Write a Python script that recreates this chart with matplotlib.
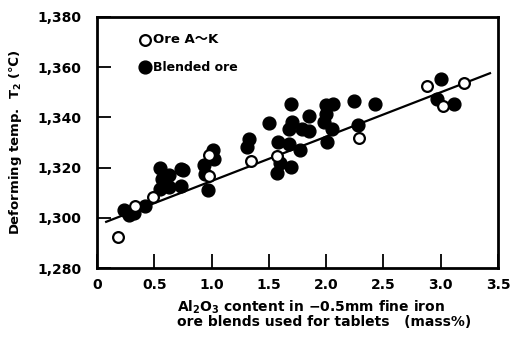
import matplotlib
matplotlib.use("Agg")
import matplotlib.pyplot as plt

# Open circles: Ore A~K
ore_x = [0.18, 0.33, 0.49, 0.98, 0.98, 1.34, 1.57, 2.29, 2.88, 3.02, 3.20]
ore_y = [1292.2, 1304.8, 1308.2, 1325.2, 1316.6, 1322.8, 1324.5, 1331.8, 1352.6, 1344.5, 1353.9]

# Filled circles: Blended ore
bl_x = [0.24, 0.28, 0.32, 0.42, 0.55, 0.57, 0.63, 0.55, 0.63, 0.73, 0.75, 0.73,
        0.93, 0.94, 1.01, 1.02, 0.97, 1.33, 1.31, 1.50, 1.58, 1.57, 1.60, 1.69,
        1.70, 1.68, 1.68, 1.69, 1.77, 1.79, 1.85, 1.85, 2.00, 2.06, 2.00, 1.98,
        2.05, 2.01, 2.24, 2.28, 2.43, 3.00, 2.97, 3.12]
bl_y = [1303.0, 1301.0, 1301.9, 1304.9, 1319.9, 1315.6, 1317.0, 1311.3, 1312.3, 1319.6, 1318.9, 1312.7,
        1321.2, 1317.6, 1326.9, 1323.6, 1311.1, 1331.3, 1328.3, 1337.9, 1330.2, 1317.9, 1322.0, 1345.4,
        1338.1, 1335.5, 1329.5, 1320.2, 1326.9, 1335.5, 1334.6, 1340.4, 1344.8, 1345.2, 1341.5, 1338.2,
        1335.5, 1330.2, 1346.5, 1336.8, 1345.4, 1355.4, 1347.2, 1345.4]

# Regression line end points
fit_x = [0.08, 3.43]
fit_y = [1298.4, 1357.6]

xticks = [0, 0.5, 1.0, 1.5, 2.0, 2.5, 3.0, 3.5]
xtick_labels = ["0", "0.5", "1.0", "1.5", "2.0", "2.5", "3.0", "3.5"]
yticks = [1280, 1300, 1320, 1340, 1360, 1380]
ytick_labels = ["1,280", "1,300", "1,320", "1,340", "1,360", "1,380"]

plt.rcParams['font.family'] = ['DejaVu Sans', 'Noto Sans CJK JP']
plt.rcParams['font.weight'] = 'bold'

fig = plt.figure(figsize=(5.14, 3.42), dpi=100)
ax = fig.add_axes([97/514, 1 - 268/342, (498 - 97)/514, (268 - 17)/342])

ax.plot(fit_x, fit_y, color='black', lw=1.6, zorder=1)
ax.scatter(bl_x, bl_y, s=85, color='black', zorder=2)
ax.scatter(ore_x, ore_y, s=60, facecolor='white', edgecolor='black', linewidths=1.6, zorder=3)

ax.set_xlim(0, 3.5)
ax.set_ylim(1280, 1380)
ax.set_xticks(xticks)
ax.set_xticklabels(xtick_labels, fontsize=10, fontweight='bold')
ax.set_yticks(yticks)
ax.set_yticklabels(ytick_labels, fontsize=10, fontweight='bold')
ax.tick_params(direction='in', length=10, width=1.3)
ax.tick_params(axis='y', pad=11)
ax.tick_params(axis='x', pad=7)
for s in ax.spines.values():
    s.set_linewidth(2.0)

# legend drawn manually as text + markers in axes coordinates
ax.scatter([0.12], [0.91], s=60, facecolor='white', edgecolor='black', linewidths=1.6,
           transform=ax.transAxes, zorder=4, clip_on=False)
ax.text(0.14, 0.91, 'Ore A\u301cK', transform=ax.transAxes, va='center', ha='left',
        fontsize=9.5, fontweight='bold', family=['DejaVu Sans', 'Noto Sans CJK JP'])
ax.scatter([0.12], [0.80], s=85, color='black', transform=ax.transAxes, zorder=4, clip_on=False)
ax.text(0.14, 0.80, 'Blended ore', transform=ax.transAxes, va='center', ha='left',
        fontsize=9, fontweight='bold')

fig.text(0.03, (1 - 268/342 + 1 - 17/342) / 2, 'Deforming temp.  T$_2$ (\u2103)', rotation=90,
         va='center', ha='center', fontsize=9.5, fontweight='bold')
fig.text(177/514, 1 - 299/342, 'Al$_2$O$_3$ content in \u22120.5mm fine iron\nore blends used for tablets   (mass%)',
         ha='left', va='top', fontsize=10, fontweight='bold', linespacing=0.85)

fig.savefig('out.png', dpi=100)
